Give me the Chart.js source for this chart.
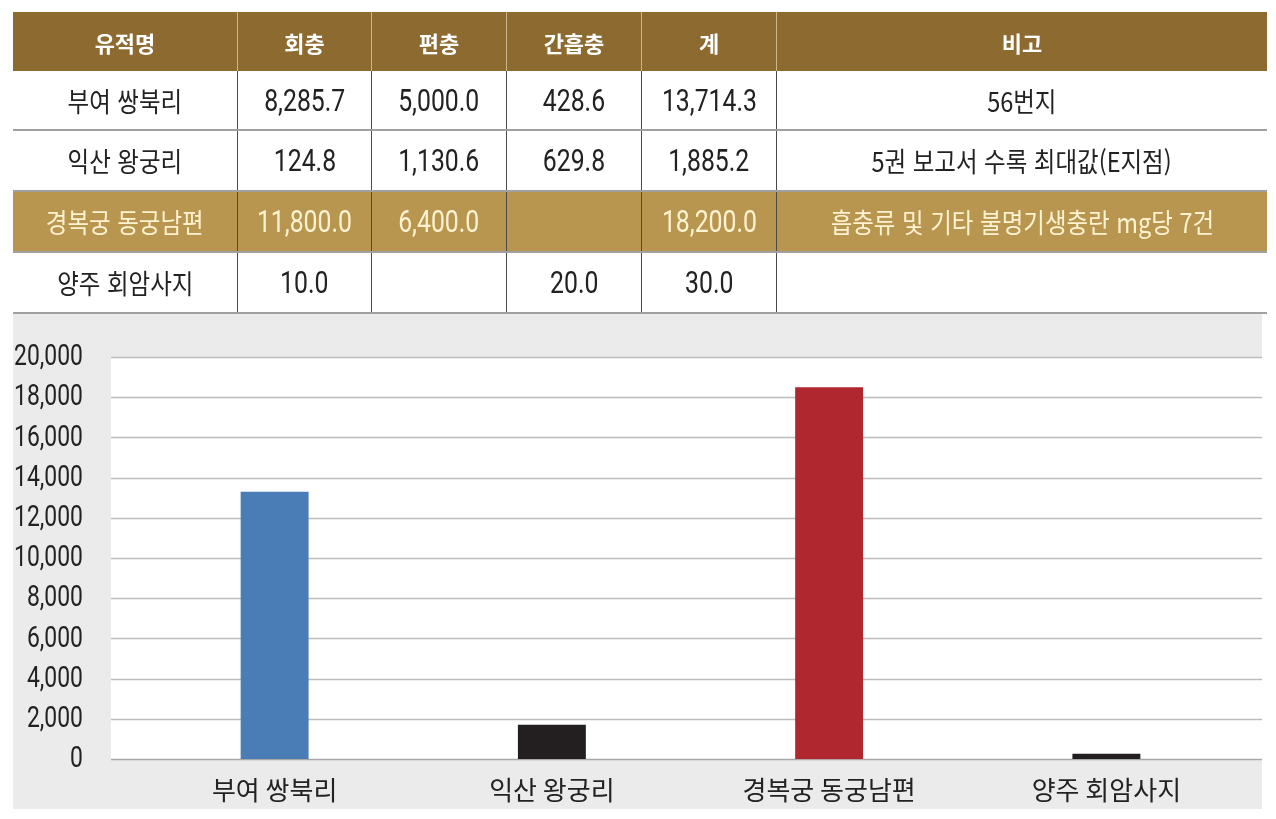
<!DOCTYPE html>
<html lang="ko">
<head>
<meta charset="utf-8">
<script src="https://cdn.jsdelivr.net/npm/chart.js@4.4.1/dist/chart.umd.min.js"></script>
<style>
  html, body { margin:0; padding:0; background:#ffffff; width:1276px; height:819px; overflow:hidden; }
  #tbl { position:absolute; z-index:2; left:13px; top:12px; width:1249px; border-collapse:collapse; table-layout:fixed; }
  #tbl th, #tbl td { padding:0; text-align:center; vertical-align:middle; overflow:hidden; white-space:nowrap; }
  #tbl th { height:59px; background:#8d6a2f; color:#ffffff; font:bold 22px "Noto Sans CJK KR", sans-serif; border-left:1px solid #cdb68a; }
  #tbl th:first-child { border-left:none; }
  #tbl td { height:59px; border-left:1px solid #4a4a4a; border-bottom:2px solid #a0a0a0; color:#222; }
  #tbl tbody tr:first-child td { height:58px; }
  #tbl td:first-child { border-left:none; }
  #tbl tr.gold td { background:#b8964f; color:#fff3d2; }
  .k { display:inline-block; font:27px "Noto Sans CJK KR", sans-serif; transform:scaleX(0.87); }
  .n { display:inline-block; font:31px Roboto, sans-serif; transform:scaleX(0.8); }
  #wrap { position:absolute; z-index:1; left:13px; top:312px; width:1249px; height:497px; background:#ebebeb; }
</style>
</head>
<body>
<table id="tbl"><thead><tr id="hdr"></tr></thead><tbody id="tbody"></tbody></table>
<div id="wrap"><canvas id="c"></canvas></div>
<script>
// ---- table data ----
const headers = ['유적명', '회충', '편충', '간흡충', '계', '비고'];
const sites = ['부여 쌍북리', '익산 왕궁리', '경복궁 동궁남편', '양주 회암사지'];
const roundworm = ['8,285.7', '124.8', '11,800.0', '10.0'];
const whipworm = ['5,000.0', '1,130.6', '6,400.0', ''];
const liverFluke = ['428.6', '629.8', '', '20.0'];
const totals = ['13,714.3', '1,885.2', '18,200.0', '30.0'];
const notes = ['56번지', '5권 보고서 수록 최대값(E지점)', '흡충류 및 기타 불명기생충란 mg당 7건', ''];

// ---- chart data ----
const chartLabels = ['부여 쌍북리', '익산 왕궁리', '경복궁 동궁남편', '양주 회암사지'];
const chartValues = [13300, 1700, 18500, 260];
const barColors = ['#4a7db5', '#231f20', '#b0272f', '#231f20'];
const yTicks = [0, 2000, 4000, 6000, 8000, 10000, 12000, 14000, 16000, 18000, 20000];

const colWidths = [224, 133, 134, 134, 134, 490];
const hdr = document.getElementById('hdr');
headers.forEach((h, i) => {
  const th = document.createElement('th');
  th.style.width = colWidths[i] + 'px';
  th.textContent = h;
  hdr.appendChild(th);
});
const tbody = document.getElementById('tbody');
sites.forEach((s, r) => {
  const tr = document.createElement('tr');
  if (r === 2) tr.className = 'gold';
  const cells = [[s, 'k'], [roundworm[r], 'n'], [whipworm[r], 'n'], [liverFluke[r], 'n'], [totals[r], 'n'], [notes[r], 'k']];
  cells.forEach(([v, cls]) => {
    const td = document.createElement('td');
    const sp = document.createElement('span');
    sp.className = cls;
    sp.textContent = v;
    td.appendChild(sp);
    tr.appendChild(td);
  });
  tbody.appendChild(tr);
});

// plot background + grid drawn across the wider white panel, plus condensed y labels
const panelPlugin = {
  id: 'panel',
  beforeDatasetsDraw(chart) {
    const { ctx, scales } = chart;
    const y = scales.y;
    const left = 98, right = 1249;
    const top = y.getPixelForValue(yTicks[yTicks.length - 1]);
    const bottom = y.getPixelForValue(0);
    ctx.save();
    ctx.fillStyle = '#ffffff';
    ctx.fillRect(left, top, right - left, bottom - top);
    ctx.lineWidth = 1.5;
    yTicks.forEach(v => {
      const p = Math.round(y.getPixelForValue(v)) + 0.5;
      ctx.strokeStyle = v === 0 ? '#a8a8a8' : '#bcbcbc';
      ctx.beginPath();
      ctx.moveTo(left, p);
      ctx.lineTo(right, p);
      ctx.stroke();
    });
    // y tick labels, right-aligned, horizontally condensed
    const sx = 0.79, xr = 70;
    ctx.fillStyle = '#222';
    ctx.font = '29px Roboto, sans-serif';
    ctx.textAlign = 'right';
    ctx.textBaseline = 'middle';
    yTicks.forEach(v => {
      const p = y.getPixelForValue(v);
      ctx.save();
      ctx.translate(xr, p);
      ctx.scale(sx, 1);
      ctx.fillText(v.toLocaleString('en-US'), 0, 1);
      ctx.restore();
    });
    ctx.restore();
  }
};

new Chart(document.getElementById('c'), {
  type: 'bar',
  data: {
    labels: chartLabels,
    datasets: [{ data: chartValues, backgroundColor: barColors, borderWidth: 0, categoryPercentage: 1, barPercentage: 0.245 }]
  },
  options: {
    responsive: true,
    maintainAspectRatio: false,
    animation: false,
    devicePixelRatio: 1,
    layout: { padding: { top: 45, right: 17, left: 0, bottom: 0 } },
    plugins: { legend: { display: false }, tooltip: { enabled: false } },
    scales: {
      x: {
        grid: { display: false },
        border: { display: false },
        ticks: { color: '#222', font: { family: '"Noto Sans CJK KR", sans-serif', size: 26 }, padding: 8, maxRotation: 0 },
        afterFit(s) { s.height = 50; }
      },
      y: {
        min: 0, max: 20000,
        afterBuildTicks(s) { s.ticks = yTicks.map(v => ({ value: v })); },
        grid: { display: false },
        border: { display: false },
        ticks: { display: false },
        afterFit(s) { s.width = 123; }
      }
    }
  },
  plugins: [panelPlugin]
});
</script>
</body>
</html>
